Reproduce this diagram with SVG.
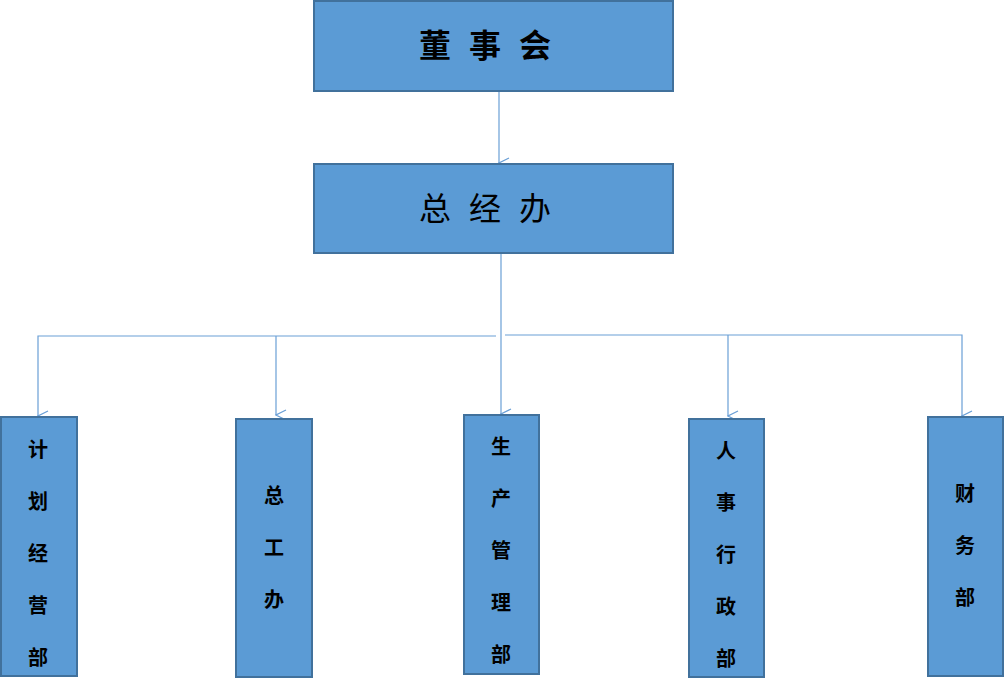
<svg xmlns="http://www.w3.org/2000/svg" width="1004" height="678" viewBox="0 0 1004 678">
<style>
.b{fill:#5b9bd5;stroke:#41719c;stroke-width:2}
.c{stroke:#6a9fd6;stroke-width:1.2;fill:none}
.t{font-family:"Noto Sans CJK SC",sans-serif;fill:#000;text-anchor:middle}
.s{font-size:20px;font-weight:bold}
</style>
<defs><marker id="a" markerWidth="12" markerHeight="12" refX="6" refY="11" orient="auto" markerUnits="userSpaceOnUse"><path d="M1,1 L6,11 L11,1" fill="none" stroke="#6a9fd6" stroke-width="1.2"/></marker></defs>
<g id="connectors" class="c">
<line x1="499" y1="91" x2="499" y2="163" marker-end="url(#a)"/>
<line x1="501" y1="253" x2="501" y2="414" marker-end="url(#a)"/>
<polyline points="496,336 38,336 38,416" marker-end="url(#a)"/>
<line x1="276" y1="336" x2="276" y2="415" marker-end="url(#a)"/>
<polyline points="505,335 962,335 962,416" marker-end="url(#a)"/>
<line x1="728" y1="335" x2="728" y2="416" marker-end="url(#a)"/>
</g>
<g id="n1"><rect class="b" x="314" y="1" width="359" height="90"/><text class="t" x="494" y="57" font-size="32" font-weight="bold" letter-spacing="18">董事会</text></g>
<g id="n2"><rect class="b" x="314" y="164" width="359" height="89"/><text class="t" x="494" y="220" font-size="32" letter-spacing="18">总经办</text></g>
<g id="n3"><rect class="b" x="1" y="417" width="76" height="259"/><text class="t s" x="38"><tspan x="38" y="457">计</tspan><tspan x="38" y="509">划</tspan><tspan x="38" y="561">经</tspan><tspan x="38" y="613">营</tspan><tspan x="38" y="665">部</tspan></text></g>
<g id="n4"><rect class="b" x="236" y="419" width="76" height="258"/><text class="t s"><tspan x="274" y="503">总</tspan><tspan x="274" y="555">工</tspan><tspan x="274" y="607">办</tspan></text></g>
<g id="n5"><rect class="b" x="464" y="415" width="75" height="259"/><text class="t s"><tspan x="501" y="454">生</tspan><tspan x="501" y="506">产</tspan><tspan x="501" y="558">管</tspan><tspan x="501" y="610">理</tspan><tspan x="501" y="662">部</tspan></text></g>
<g id="n6"><rect class="b" x="689" y="419" width="75" height="258"/><text class="t s"><tspan x="726" y="458">人</tspan><tspan x="726" y="510">事</tspan><tspan x="726" y="562">行</tspan><tspan x="726" y="614">政</tspan><tspan x="726" y="666">部</tspan></text></g>
<g id="n7"><rect class="b" x="928" y="417" width="75" height="259"/><text class="t s"><tspan x="965" y="501">财</tspan><tspan x="965" y="553">务</tspan><tspan x="965" y="605">部</tspan></text></g>
</svg>
